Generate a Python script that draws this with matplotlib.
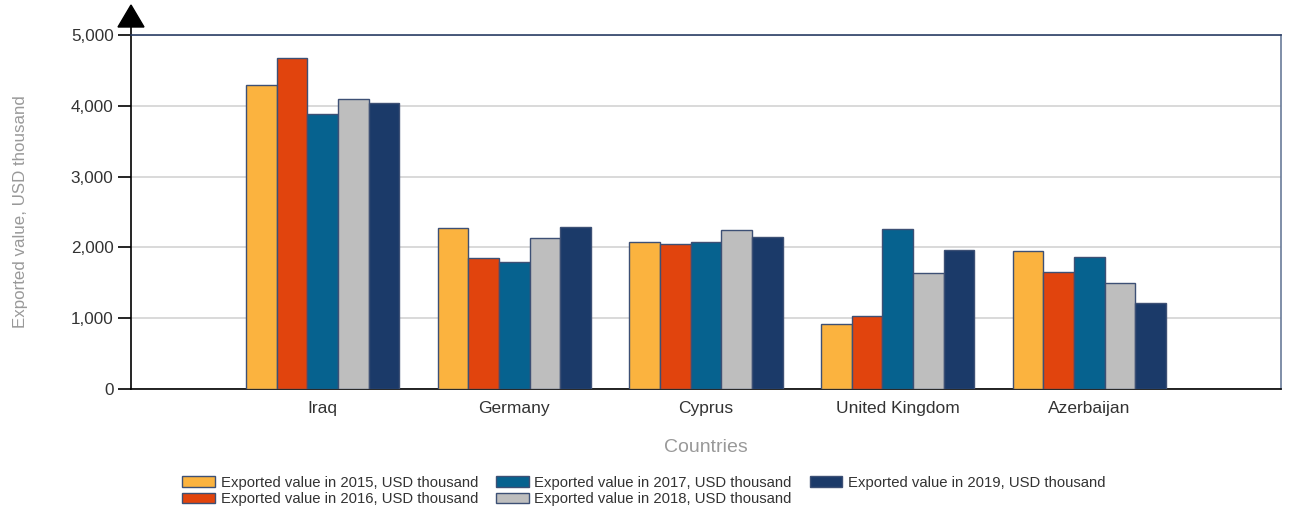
import matplotlib
matplotlib.use("Agg")
import matplotlib.pyplot as plt
from matplotlib.patches import Polygon
from matplotlib.ticker import FuncFormatter
import numpy as np

plt.rcParams['font.family'] = ['Liberation Sans', 'DejaVu Sans']

countries = ["Iraq", "Germany", "Cyprus", "United Kingdom", "Azerbaijan"]
series_labels = [
    "Exported value in 2015, USD thousand",
    "Exported value in 2016, USD thousand",
    "Exported value in 2017, USD thousand",
    "Exported value in 2018, USD thousand",
    "Exported value in 2019, USD thousand",
]
v2015 = [4300, 2280, 2070, 915, 1950]
v2016 = [4670, 1850, 2050, 1030, 1650]
v2017 = [3880, 1800, 2080, 2260, 1865]
v2018 = [4100, 2135, 2245, 1640, 1495]
v2019 = [4040, 2290, 2150, 1965, 1220]
series = [v2015, v2016, v2017, v2018, v2019]
colors = ["#FBB33F", "#E1440D", "#06628F", "#BEBEBE", "#1B3A69"]

fig = plt.figure(figsize=(12.89, 5.09), dpi=100)
ax = fig.add_axes([131/1289, 1-389/509, 1150/1289, 354/509])

x = np.arange(1, len(countries)+1)
w = 0.16
for i, (vals, c, lab) in enumerate(zip(series, colors, series_labels)):
    ax.bar(x + (i-2)*w, vals, width=w, color=c, edgecolor="#3D5075",
           linewidth=1.0, label=lab, zorder=3)

ax.set_xlim(0, 6)
ax.set_ylim(0, 5000)
ax.set_yticks([0, 1000, 2000, 3000, 4000, 5000])
ax.yaxis.set_major_formatter(FuncFormatter(lambda v, p: f"{int(v):,}"))
ax.set_xticks(x)
ax.set_xticklabels(countries)
ax.grid(axis='y', color="#D3D3D3", linewidth=1.2, zorder=0)
ax.set_axisbelow(True)

ax.tick_params(axis='y', length=9.5, width=1.2, color="black", labelsize=12.3,
               labelcolor="#333333", pad=3)
ax.tick_params(axis='x', length=0, labelsize=12.5, labelcolor="#333333", pad=9)

for s in ['left', 'bottom']:
    ax.spines[s].set_color("black")
    ax.spines[s].set_linewidth(1.2)
ax.spines['top'].set_color("#2B3F66")
ax.spines['top'].set_linewidth(1.2)
ax.spines['right'].set_color("#6A7B9A")
ax.spines['right'].set_linewidth(1.2)

ax.set_ylabel("Exported value, USD thousand", color="#999999", fontsize=12.2)
ax.yaxis.set_label_coords(-0.0895, 0.5)
ax.set_xlabel("Countries", color="#999999", fontsize=14)
ax.xaxis.set_label_coords(0.5, -0.142)

# arrow on top of y-axis
ax.plot([0, 0], [1, 1.03], transform=ax.transAxes, color="black", lw=1.2, clip_on=False)
tri = Polygon([[-0.0113, 1.0226], [0.0113, 1.0226], [0, 1.0847]], closed=True,
              transform=ax.transAxes, color="black", clip_on=False)
ax.add_patch(tri)

leg = fig.legend(loc='upper left', bbox_to_anchor=(182/1289, 1-476/509), ncol=3,
                 frameon=False, fontsize=10.7, handlelength=2.2, handleheight=0.75,
                 handletextpad=0.4, columnspacing=1.2, labelspacing=0.15,
                 borderaxespad=0, borderpad=0)
for t in leg.get_texts():
    t.set_color("#333333")

fig.savefig("out.png", dpi=100)
